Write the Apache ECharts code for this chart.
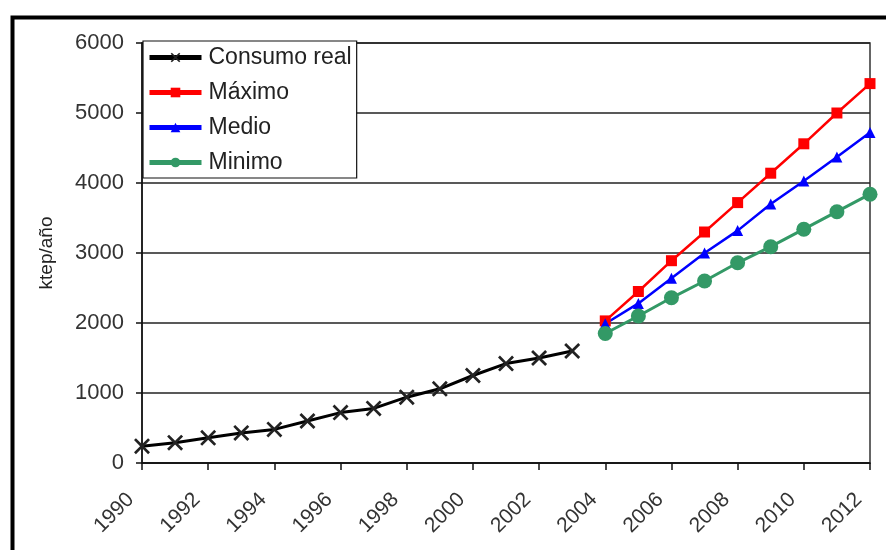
<!DOCTYPE html>
<html>
<head>
<meta charset="utf-8">
<script src="https://cdn.jsdelivr.net/npm/echarts@6/dist/echarts.min.js"></script>
<style>html,body{margin:0;padding:0;background:#fff;}#c{width:886px;height:550px;}</style>
</head>
<body>
<div id="c"></div>
<script>
var years = ['1990','1991','1992','1993','1994','1995','1996','1997','1998','1999','2000','2001','2002','2003','2004','2005','2006','2007','2008','2009','2010','2011','2012'];
var consumoReal = [240,290,360,430,480,600,720,780,940,1060,1250,1420,1500,1600,null,null,null,null,null,null,null,null,null];
var maximo = [null,null,null,null,null,null,null,null,null,null,null,null,null,null,2030,2450,2890,3300,3720,4140,4560,5000,5420];
var medio  = [null,null,null,null,null,null,null,null,null,null,null,null,null,null,1990,2280,2640,3000,3320,3700,4030,4370,4720];
var minimo = [null,null,null,null,null,null,null,null,null,null,null,null,null,null,1850,2100,2360,2600,2860,3090,3340,3590,3840];
var seriesNames = ['Consumo real','Máximo','Medio','Minimo'];
var yAxisName = 'ktep/año';

var FONT = "'Liberation Sans', Arial, sans-serif";
var xPath = 'path://M0,1.2L1.2,0L5,3.8L8.8,0L10,1.2L6.2,5L10,8.8L8.8,10L5,6.2L1.2,10L0,8.8L3.8,5Z';

var chart = echarts.init(document.getElementById('c'), null, {renderer:'canvas'});
chart.setOption({
  animation: false,
  backgroundColor: '#fff',
  graphic: [{
    type: 'rect', left: 10, top: 15, z: 100,
    shape: {x: 0, y: 0, width: 900, height: 560},
    style: {fill: 'none', stroke: '#000', lineWidth: 4}
  }],
  grid: {left: 142, right: 16, top: 43, bottom: 87, show: true, borderColor: '#333', borderWidth: 1.5, backgroundColor: 'transparent'},
  legend: {
    orient: 'vertical', left: 143, top: 41,
    backgroundColor: '#fff', borderColor: '#111', borderWidth: 1.2,
    padding: [5, 5, 4, 4], itemGap: 12, itemWidth: 52, itemHeight: 12,
    lineStyle: {width: 5},
    textStyle: {fontFamily: FONT, fontSize: 23, color: '#222', padding: [0,0,0,2]},
    data: seriesNames
  },
  xAxis: {
    type: 'category', data: years, boundaryGap: false,
    axisLine: {lineStyle: {color: '#111', width: 1.5}},
    axisTick: {interval: 1, length: 7, lineStyle: {color: '#111', width: 1.5}},
    axisLabel: {interval: 1, rotate: 45, margin: 22, padding: [0, 16, 0, 0], fontFamily: FONT, fontSize: 21, color: '#333'},
    splitLine: {show: false}
  },
  yAxis: {
    type: 'value', min: 0, max: 6000, interval: 1000,
    name: yAxisName, nameLocation: 'middle', nameGap: 86, nameRotate: 90,
    nameTextStyle: {fontFamily: FONT, fontSize: 19, color: '#222'},
    axisLine: {show: true, lineStyle: {color: '#111', width: 1.5}},
    axisTick: {show: true, length: 6, lineStyle: {color: '#111', width: 1.5}},
    axisLabel: {margin: 18, fontFamily: FONT, fontSize: 22, color: '#333',
      formatter: function (v) { return String(v); }},
    splitLine: {lineStyle: {color: '#222', width: 1.5}}
  },
  series: [
    {name: seriesNames[0], type: 'line', data: consumoReal, symbol: xPath, symbolSize: 16,
     lineStyle: {color: '#000', width: 3}, itemStyle: {color: '#222'}, connectNulls: false},
    {name: seriesNames[1], type: 'line', data: maximo, symbol: 'rect', symbolSize: 11,
     lineStyle: {color: '#ff0000', width: 2.5}, itemStyle: {color: '#ff0000'}},
    {name: seriesNames[2], type: 'line', data: medio, symbol: 'triangle', symbolSize: 11,
     lineStyle: {color: '#0000ff', width: 2.5}, itemStyle: {color: '#0000ff'}},
    {name: seriesNames[3], type: 'line', data: minimo, symbol: 'circle', symbolSize: 15,
     lineStyle: {color: '#339966', width: 3}, itemStyle: {color: '#339966'}}
  ]
});
</script>
</body>
</html>
